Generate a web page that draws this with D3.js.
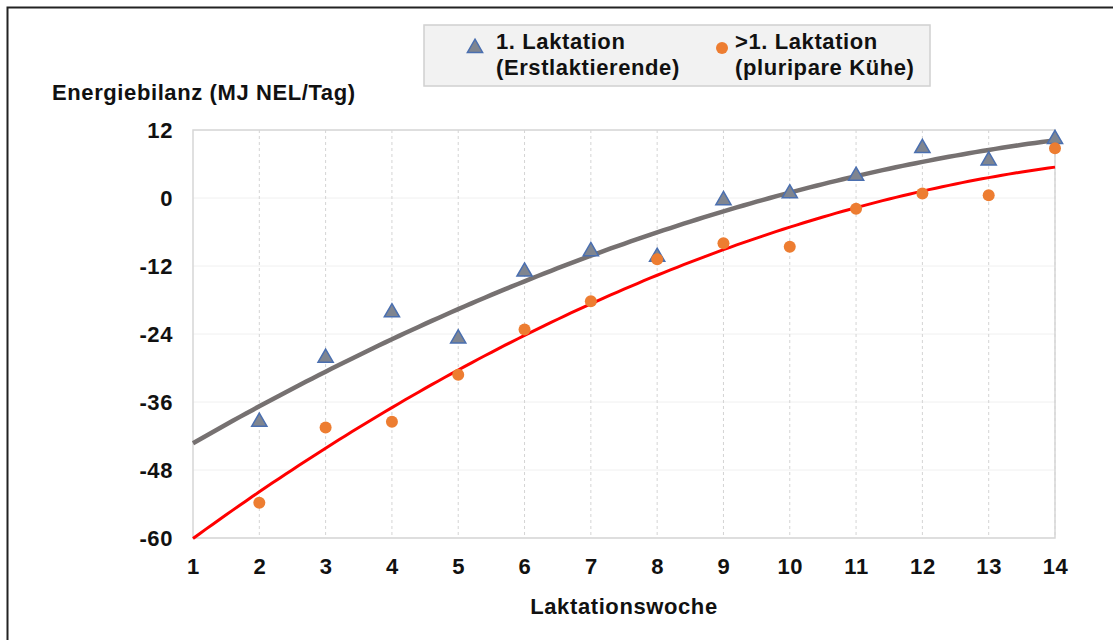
<!DOCTYPE html>
<html>
<head>
<meta charset="utf-8">
<script src="https://cdn.jsdelivr.net/npm/d3@7/dist/d3.min.js"></script>
<style>
  html, body { margin: 0; padding: 0; background: #fff; }
  svg { display: block; font-family: 'Liberation Sans', Arial, sans-serif; }
  .lbl { font-size: 22px; font-weight: bold; fill: #111; letter-spacing: 0.6px; }
</style>
</head>
<body>
<svg id="chart" width="1113" height="640"></svg>
<script>
// ── Data ─────────────────────────────────────────────
const weeks = [2, 3, 4, 5, 6, 7, 8, 9, 10, 11, 12, 13, 14];
const firstLact = [-39.5, -28.2, -20.2, -24.8, -13, -9.4, -10.4, -0.4, 0.8, 3.9, 8.8, 6.6, 10.4];
const multiLact = [-53.8, -40.5, -39.5, -31.2, -23.2, -18.2, -10.8, -8, -8.6, -1.9, 0.8, 0.5, 8.8];
const xTicks = [1, 2, 3, 4, 5, 6, 7, 8, 9, 10, 11, 12, 13, 14];
const yTicks = [-60, -48, -36, -24, -12, 0, 12];

// quadratic least squares (Excel "Polynomisch, Ordnung 2")
function polyFit2(xs, ys) {
  let s = [0, 0, 0, 0, 0], t = [0, 0, 0];
  xs.forEach((x, i) => {
    for (let k = 0; k < 5; k++) s[k] += Math.pow(x, k);
    for (let k = 0; k < 3; k++) t[k] += ys[i] * Math.pow(x, k);
  });
  const A = [[s[0], s[1], s[2], t[0]], [s[1], s[2], s[3], t[1]], [s[2], s[3], s[4], t[2]]];
  for (let i = 0; i < 3; i++) {
    for (let j = i + 1; j < 3; j++) {
      const f = A[j][i] / A[i][i];
      for (let k = i; k < 4; k++) A[j][k] -= f * A[i][k];
    }
  }
  const c = [0, 0, 0];
  for (let i = 2; i >= 0; i--) {
    let v = A[i][3];
    for (let k = i + 1; k < 3; k++) v -= A[i][k] * c[k];
    c[i] = v / A[i][i];
  }
  return x => c[0] + c[1] * x + c[2] * x * x;
}

// ── Setup ────────────────────────────────────────────
const svg = d3.select('#chart');
const m = { left: 193, right: 1055, top: 130, bottom: 538 };

const x = d3.scaleLinear().domain([1, 14]).range([m.left, m.right]);
const y = d3.scaleLinear().domain([-60, 12]).range([m.bottom, m.top]);

// outer frame (runs off the right/bottom edge)
svg.append('rect')
  .attr('x', 7.5).attr('y', 7.5)
  .attr('width', 1130).attr('height', 660)
  .attr('fill', 'none').attr('stroke', '#222').attr('stroke-width', 2);

// horizontal grid (very faint)
svg.append('g')
  .selectAll('line')
  .data(yTicks)
  .join('line')
  .attr('x1', m.left).attr('x2', m.right)
  .attr('y1', d => y(d)).attr('y2', d => y(d))
  .attr('stroke', '#f0f0f0').attr('stroke-width', 1);

// vertical grid (dashed)
svg.append('g')
  .selectAll('line')
  .data(xTicks.slice(1))
  .join('line')
  .attr('x1', d => x(d)).attr('x2', d => x(d))
  .attr('y1', m.top).attr('y2', m.bottom)
  .attr('stroke', '#d4d4d4').attr('stroke-width', 1)
  .attr('stroke-dasharray', '3,3');

// plot border
svg.append('rect')
  .attr('x', m.left).attr('y', m.top)
  .attr('width', m.right - m.left).attr('height', m.bottom - m.top)
  .attr('fill', 'none').attr('stroke', '#d6d6d6').attr('stroke-width', 1.5);

// ── Axes ─────────────────────────────────────────────
const yAxis = svg.append('g')
  .attr('transform', `translate(${m.left - 20},0)`)
  .call(d3.axisLeft(y).tickValues(yTicks).tickSize(0).tickPadding(0)
    .tickFormat(d => String(d)));
yAxis.select('.domain').remove();
yAxis.selectAll('text').attr('class', 'lbl').attr('font-size', null).attr('font-family', null).attr('fill', null);

const xAxis = svg.append('g')
  .attr('transform', `translate(0,${m.bottom + 20})`)
  .call(d3.axisBottom(x).tickValues(xTicks).tickSize(0).tickPadding(0).tickFormat(d3.format('d')));
xAxis.select('.domain').remove();
xAxis.selectAll('text').attr('class', 'lbl').attr('font-size', null).attr('font-family', null).attr('fill', null);

svg.append('text')
  .attr('class', 'lbl')
  .attr('x', 52).attr('y', 100)
  .text('Energiebilanz (MJ NEL/Tag)');

svg.append('text')
  .attr('class', 'lbl')
  .attr('x', (m.left + m.right) / 2).attr('y', 614)
  .attr('text-anchor', 'middle')
  .text('Laktationswoche');

// ── Trend lines ──────────────────────────────────────
const fitFirst = polyFit2(weeks, firstLact);
const fitMulti = polyFit2(weeks, multiLact);
const xs = d3.range(1, 14.001, 0.1);
const line = f => d3.line().x(d => x(d)).y(d => y(f(d)))(xs);

svg.append('path').attr('d', line(fitMulti))
  .attr('fill', 'none').attr('stroke', '#ff0000').attr('stroke-width', 3);
svg.append('path').attr('d', line(fitFirst))
  .attr('fill', 'none').attr('stroke', '#767171').attr('stroke-width', 4.5);

// ── Points ───────────────────────────────────────────
const tri = d3.symbol().type(d3.symbolTriangle).size(100);

svg.append('g')
  .selectAll('path')
  .data(weeks.map((w, i) => [w, firstLact[i]]))
  .join('path')
  .attr('d', tri)
  .attr('transform', d => `translate(${x(d[0])},${y(d[1])})`)
  .attr('fill', '#7f8590').attr('stroke', '#4a6fb0').attr('stroke-width', 1.5);

svg.append('g')
  .selectAll('circle')
  .data(weeks.map((w, i) => [w, multiLact[i]]))
  .join('circle')
  .attr('cx', d => x(d[0])).attr('cy', d => y(d[1]))
  .attr('r', 6)
  .attr('fill', '#ed7d31');

// ── Legend ───────────────────────────────────────────
const lg = svg.append('g');
lg.append('rect')
  .attr('x', 424).attr('y', 25).attr('width', 506).attr('height', 61)
  .attr('fill', '#f2f2f2').attr('stroke', '#d0d0d0').attr('stroke-width', 1.5);

lg.append('path').attr('d', tri)
  .attr('transform', 'translate(475,48)')
  .attr('fill', '#7f8590').attr('stroke', '#4a6fb0').attr('stroke-width', 1.5);
lg.append('circle').attr('cx', 722).attr('cy', 48).attr('r', 6).attr('fill', '#ed7d31');

const legendItems = [
  { x: 496, lines: ['1. Laktation', '(Erstlaktierende)'] },
  { x: 735, lines: ['>1. Laktation', '(pluripare Kühe)'] },
];
legendItems.forEach(it => {
  it.lines.forEach((t, i) => {
    lg.append('text')
      .attr('class', 'lbl')
      .attr('x', it.x).attr('y', 49 + i * 26)
      .text(t);
  });
});
</script>
</body>
</html>
